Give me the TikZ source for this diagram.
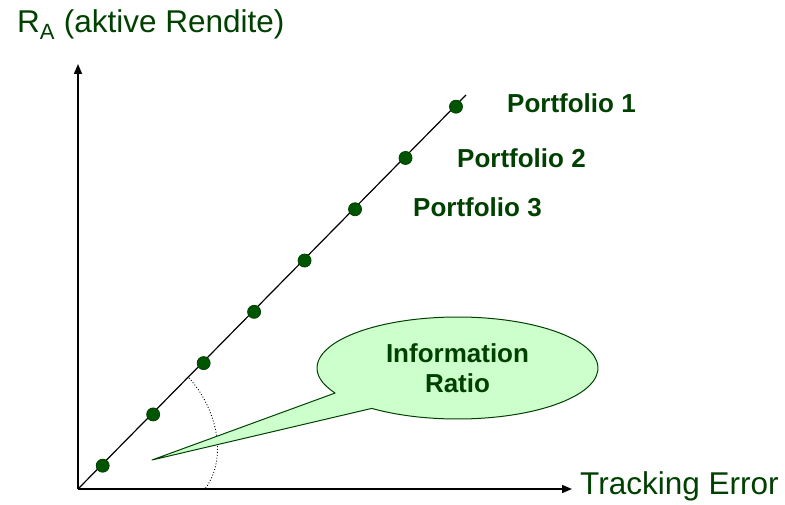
\documentclass[tikz,border=0pt]{standalone}
\usepackage{fontspec}
\setmainfont{Liberation Sans}
\usepackage{xcolor}
\usetikzlibrary{positioning,arrows.meta}

\definecolor{txtgreen}{RGB}{0,64,0}
\definecolor{dotgreen}{RGB}{0,85,0}
\definecolor{bubblegreen}{RGB}{204,255,204}

\begin{document}
\begin{tikzpicture}[
  x=1pt, y=1pt,
  axis/.style={line width=1.5pt, -{Triangle[length=10pt,width=8pt]}},
  pdot/.style={circle, fill=dotgreen, draw=txtgreen, line width=0.8pt, minimum size=13pt, inner sep=0pt},
  plabel/.style={font=\fontsize{26}{30}\selectfont\bfseries, text=txtgreen, anchor=base west, inner sep=0pt},
  axlabel/.style={font=\fontsize{31.5}{36}\selectfont, text=txtgreen, inner sep=0pt},
  bubble/.style={fill=bubblegreen, draw=txtgreen, line width=1pt, line join=round},
  angle/.style={dotted, line width=0.9pt}
]
\useasboundingbox (0,0) rectangle (785,504);

% Axes
\coordinate (O)    at (78,15);
\coordinate (ytip) at (78,440);
\coordinate (xtip) at (572,15);
\draw[axis] (O) -- (ytip);
\draw[axis] (O) -- (xtip);

% Axis labels
\node[axlabel, anchor=base west] (ylab) at (17,471) {R\textsubscript{A} (aktive Rendite)};
\node[axlabel, right=8pt of xtip, yshift=3pt] (xlab) {Tracking Error};

% Line of portfolios
\coordinate (lend) at (466,409);
\draw[line width=1.2pt] (O) -- (lend);
\foreach \i in {0,...,7}
  \node[pdot] (p\i) at ({102.7+50.47*\i},{38.3+51.29*\i}) {};

% Portfolio labels
\node[plabel] (pf1) at (507,391) {Portfolio 1};
\node[plabel] (pf2) at (457,336) {Portfolio 2};
\node[plabel] (pf3) at (413,287) {Portfolio 3};

% Angle
\coordinate (a1) at (189,126);
\coordinate (a2) at (205,15);
\draw[angle] (a1) .. controls (214,99) and (230,49) .. (a2);

% Callout
\coordinate (bc)  at (457.5,136);
\coordinate (tip) at (152,44);
\draw[bubble] (bc) ++(232.4:140.5 and 51)
  arc[start angle=232.4, end angle=569.4, x radius=140.5, y radius=51] -- (tip) -- cycle;
\node[align=center, font=\fontsize{26}{30}\selectfont\bfseries, text=txtgreen] (ir) at (bc) {Information\\Ratio};

\end{tikzpicture}
\end{document}
